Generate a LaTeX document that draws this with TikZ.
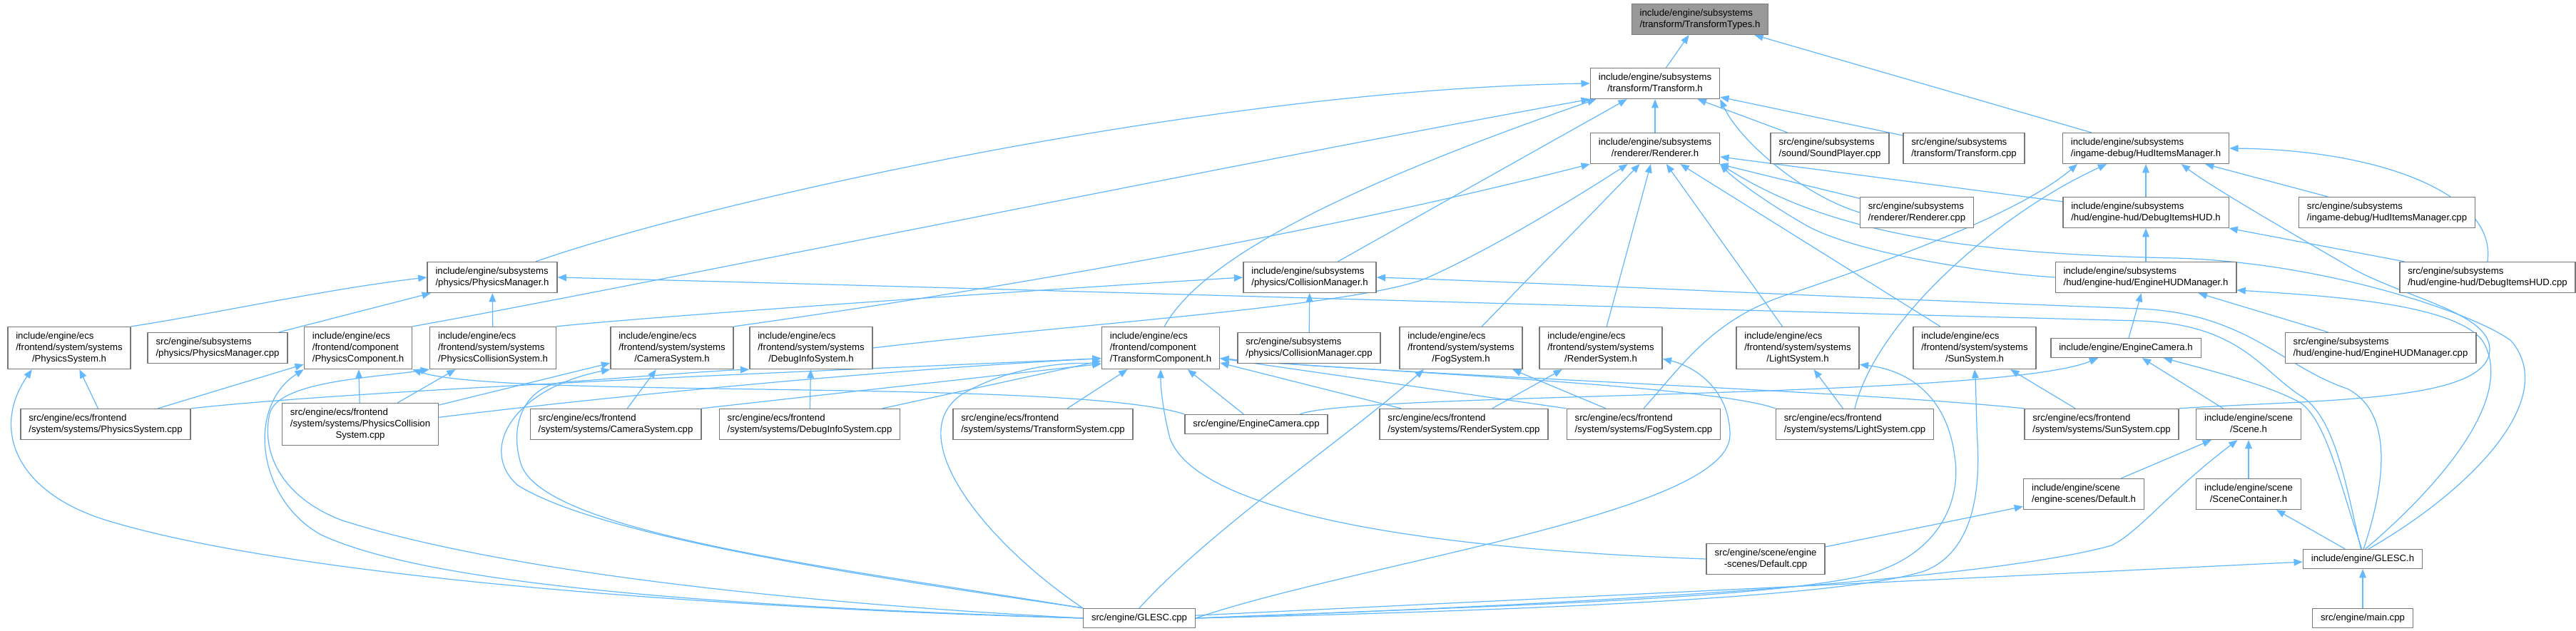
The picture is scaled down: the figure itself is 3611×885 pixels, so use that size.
\documentclass[tikz,border=0pt]{standalone}
\usepackage{fontspec}
\setmainfont{Liberation Sans}
\usepackage{tikz}
\usetikzlibrary{arrows.meta, backgrounds}
\definecolor{incblue}{RGB}{99, 184, 255}
\definecolor{boxline}{RGB}{120, 120, 120}
\definecolor{targetfill}{RGB}{153, 153, 153}
\newcommand{\onel}[1]{\begin{tabular}{@{}c@{}}#1\end{tabular}}
\newcommand{\twol}[2]{\begin{tabular}{@{}l@{}}#1\\\multicolumn{1}{@{}c@{}}{#2}\end{tabular}}
\newcommand{\threel}[3]{\begin{tabular}{@{}l@{}}#1\\#2\\\multicolumn{1}{@{}c@{}}{#3}\end{tabular}}

\begin{document}
\begin{tikzpicture}[
  x=0.02cm, y=-0.02cm,
  file/.style={
    draw=boxline, fill=white, line width=0.8pt,
    inner xsep=6.5pt, inner ysep=3.1pt,
    font=\fontsize{7.5}{9.1}\selectfont
  },
  target/.style={file, fill=targetfill},
  inc/.style={-{Triangle[length=7pt,width=5.5pt]}, draw=incblue, line width=0.7pt}
]
  \useasboundingbox (0,0) rectangle (3611,885);

  \node[target] (tt) at (2383,27) {\twol{include/engine/subsystems}{/transform/TransformTypes.h}};
  \node[file] (tr) at (2320,117) {\twol{include/engine/subsystems}{/transform/Transform.h}};

  \node[file] (rh) at (2320,208) {\twol{include/engine/subsystems}{/renderer/Renderer.h}};
  \node[file] (sp) at (2565,208) {\twol{src/engine/subsystems}{/sound/SoundPlayer.cpp}};
  \node[file] (tcpp) at (2753,208) {\twol{src/engine/subsystems}{/transform/Transform.cpp}};
  \node[file] (himh) at (3008,208) {\twol{include/engine/subsystems}{/ingame-debug/HudItemsManager.h}};

  \node[file] (rcpp) at (2687,298) {\twol{src/engine/subsystems}{/renderer/Renderer.cpp}};
  \node[file] (dih) at (3008,298) {\twol{include/engine/subsystems}{/hud/engine-hud/DebugItemsHUD.h}};
  \node[file] (himcpp) at (3346,298) {\twol{src/engine/subsystems}{/ingame-debug/HudItemsManager.cpp}};

  \node[file] (pmh) at (690,389) {\twol{include/engine/subsystems}{/physics/PhysicsManager.h}};
  \node[file] (cmh) at (1836,389) {\twol{include/engine/subsystems}{/physics/CollisionManager.h}};
  \node[file] (ehmh) at (3008,389) {\twol{include/engine/subsystems}{/hud/engine-hud/EngineHUDManager.h}};
  \node[file] (dicpp) at (3487,389) {\twol{src/engine/subsystems}{/hud/engine-hud/DebugItemsHUD.cpp}};

  \node[file] (psh) at (97,488) {\threel{include/engine/ecs}{/frontend/system/systems}{/PhysicsSystem.h}};
  \node[file] (pmcpp) at (305,488) {\twol{src/engine/subsystems}{/physics/PhysicsManager.cpp}};
  \node[file] (pch) at (502,488) {\threel{include/engine/ecs}{/frontend/component}{/PhysicsComponent.h}};
  \node[file] (pcsh) at (691,488) {\threel{include/engine/ecs}{/frontend/system/systems}{/PhysicsCollisionSystem.h}};
  \node[file] (csh) at (942,488) {\threel{include/engine/ecs}{/frontend/system/systems}{/CameraSystem.h}};
  \node[file] (dish) at (1137,488) {\threel{include/engine/ecs}{/frontend/system/systems}{/DebugInfoSystem.h}};
  \node[file] (tch) at (1627,488) {\threel{include/engine/ecs}{/frontend/component}{/TransformComponent.h}};
  \node[file] (cmcpp) at (1835,488) {\twol{src/engine/subsystems}{/physics/CollisionManager.cpp}};
  \node[file] (fsh) at (2048,488) {\threel{include/engine/ecs}{/frontend/system/systems}{/FogSystem.h}};
  \node[file] (rsh) at (2244,488) {\threel{include/engine/ecs}{/frontend/system/systems}{/RenderSystem.h}};
  \node[file] (lsh) at (2520,488) {\threel{include/engine/ecs}{/frontend/system/systems}{/LightSystem.h}};
  \node[file] (ssh) at (2768,488) {\threel{include/engine/ecs}{/frontend/system/systems}{/SunSystem.h}};
  \node[file] (ech) at (2980,488) {\onel{include/engine/EngineCamera.h}};
  \node[file] (ehmcpp) at (3337,488) {\twol{src/engine/subsystems}{/hud/engine-hud/EngineHUDManager.cpp}};

  \node[file] (pscpp) at (148,595) {\twol{src/engine/ecs/frontend}{/system/systems/PhysicsSystem.cpp}};
  \node[file] (pcscpp) at (505,595) {\threel{src/engine/ecs/frontend}{/system/systems/PhysicsCollision}{System.cpp}};
  \node[file] (cscpp) at (863,595) {\twol{src/engine/ecs/frontend}{/system/systems/CameraSystem.cpp}};
  \node[file] (discpp) at (1135,595) {\twol{src/engine/ecs/frontend}{/system/systems/DebugInfoSystem.cpp}};
  \node[file] (tscpp) at (1462,595) {\twol{src/engine/ecs/frontend}{/system/systems/TransformSystem.cpp}};
  \node[file] (eccpp) at (1761,595) {\onel{src/engine/EngineCamera.cpp}};
  \node[file] (rscpp) at (2052,595) {\twol{src/engine/ecs/frontend}{/system/systems/RenderSystem.cpp}};
  \node[file] (fscpp) at (2304,595) {\twol{src/engine/ecs/frontend}{/system/systems/FogSystem.cpp}};
  \node[file] (lscpp) at (2600,595) {\twol{src/engine/ecs/frontend}{/system/systems/LightSystem.cpp}};
  \node[file] (sscpp) at (2946,595) {\twol{src/engine/ecs/frontend}{/system/systems/SunSystem.cpp}};
  \node[file] (sceneh) at (3152,595) {\twol{include/engine/scene}{/Scene.h}};

  \node[file] (defh) at (2921,693) {\twol{include/engine/scene}{/engine-scenes/Default.h}};
  \node[file] (scch) at (3152,693) {\twol{include/engine/scene}{/SceneContainer.h}};
  \node[file] (defcpp) at (2475,784) {\twol{src/engine/scene/engine}{-scenes/Default.cpp}};
  \node[file] (gh) at (3312,784) {\onel{include/engine/GLESC.h}};
  \node[file] (gcpp) at (1597,867) {\onel{src/engine/GLESC.cpp}};
  \node[file] (maincpp) at (3312,867) {\onel{src/engine/main.cpp}};

  \begin{scope}[on background layer]
    \draw[inc] (tr) -- (tt);
    \draw[inc] (himh) -- (tt);

    \draw[inc] (rh) -- (tr);
    \draw[inc] (sp) -- (tr);
    \draw[inc] (tcpp) -- (tr);
    \draw[inc] (cmh) -- (tr);
    \draw[inc] (rcpp.west) .. controls (2530,275) and (2440,200) .. (tr.south east);
    \draw[inc] (pmh.20) .. controls (1000,280) and (1700,125) .. (tr.west);
    \draw[inc] (pch.north east) .. controls (900,400) and (1700,235) .. (tr.south west);
    \draw[inc] (tch.80) .. controls (1680,370) and (1860,270) .. (tr.-165);

    \draw[inc] (rcpp) -- (rh);
    \draw[inc] (dih) -- (rh);
    \draw[inc] (fsh) -- (rh);
    \draw[inc] (rsh) -- (rh);
    \draw[inc] (lsh) -- (rh);
    \draw[inc] (ssh) -- (rh);
    \draw[inc] (csh.north east) .. controls (1300,420) and (1800,340) .. (rh.south west);
    \draw[inc] (dish.east) .. controls (1500,455) and (1900,430) .. (2000,390) .. controls (2100,345) and (2220,270) .. (rh.-150);
    \draw[inc] (ehmh.west) .. controls (2750,380) and (2590,350) .. (2530,315) .. controls (2470,280) and (2430,250) .. (rh.south east);
    \draw[inc] (gh.60) .. controls (3460,690) and (3590,560) .. (3520,478) .. controls (3470,440) and (3260,368) .. (3050,362) .. controls (2750,356) and (2560,325) .. (rh.south east);

    \draw[inc] (dih) -- (himh);
    \draw[inc] (himcpp) -- (himh);
    \draw[inc] (dicpp.north) .. controls (3500,270) and (3330,210) .. (himh.east);
    \draw[inc] (fscpp.north) .. controls (2360,510) and (2400,450) .. (2500,415) .. controls (2650,365) and (2830,300) .. (himh.-167);
    \draw[inc] (lscpp.north) .. controls (2630,450) and (2800,300) .. (himh.-158);
    \draw[inc] (sscpp.north east) .. controls (3250,560) and (3490,565) .. (3490,490) .. controls (3490,440) and (3380,420) .. (3300,378) .. controls (3200,320) and (3100,262) .. (himh.-24);

    \draw[inc] (ehmh) -- (dih);
    \draw[inc] (dicpp) -- (dih);
    \draw[inc] (ech) -- (ehmh);
    \draw[inc] (ehmcpp) -- (ehmh);
    \draw[inc] (gh.75) .. controls (3410,690) and (3530,560) .. (3480,478) .. controls (3440,425) and (3260,415) .. (ehmh.-8);

    \draw[inc] (psh.north east) .. controls (300,440) and (460,405) .. (pmh.west);
    \draw[inc] (pmcpp) -- (pmh);
    \draw[inc] (pcsh) -- (pmh);
    \draw[inc] (gh.100) .. controls (3290,690) and (3275,585) .. (3225,555) .. controls (3170,520) and (3140,455) .. (3000,450) .. controls (2300,432) and (1300,402) .. (pmh.east);

    \draw[inc] (cmcpp) -- (cmh);
    \draw[inc] (pcsh.north east) .. controls (900,445) and (1400,410) .. (cmh.west);
    \draw[inc] (gh.85) .. controls (3340,690) and (3360,580) .. (3290,545) .. controls (3200,515) and (3150,440) .. (3000,433) .. controls (2500,414) and (2200,398) .. (cmh.east);

    \draw[inc] (pscpp) -- (psh);
    \draw[inc] (pscpp) -- (pch);
    \draw[inc] (pscpp.north east) .. controls (520,545) and (1200,518) .. (tch.-170);
    \draw[inc] (pcscpp) -- (pch);
    \draw[inc] (pcscpp) -- (pcsh);
    \draw[inc] (pcscpp) -- (csh);
    \draw[inc] (pcscpp.5) .. controls (900,550) and (1300,515) .. (tch.-170);
    \draw[inc] (cscpp) -- (csh);
    \draw[inc] (cscpp.north east) -- (tch.-165);
    \draw[inc] (discpp) -- (dish);
    \draw[inc] (discpp) -- (tch);
    \draw[inc] (tscpp) -- (tch);
    \draw[inc] (eccpp) -- (tch);
    \draw[inc] (eccpp.north west) .. controls (1500,530) and (700,560) .. (pch.south east);
    \draw[inc] (eccpp.13) .. controls (1900,550) and (2800,560) .. (ech.-160);
    \draw[inc] (rscpp) -- (rsh);
    \draw[inc] (rscpp) -- (tch);
    \draw[inc] (fscpp) -- (fsh);
    \draw[inc] (fscpp.north west) -- (tch.-10);
    \draw[inc] (lscpp) -- (lsh);
    \draw[inc] (lscpp.north west) .. controls (2400,540) and (1900,520) .. (tch.-10);
    \draw[inc] (sscpp) -- (ssh);
    \draw[inc] (sscpp.north west) .. controls (2600,548) and (1950,525) .. (tch.-10);

    \draw[inc] (sceneh) -- (ech);
    \draw[inc] (defh) -- (sceneh);
    \draw[inc] (scch) -- (sceneh);
    \draw[inc] (defcpp) -- (defh);
    \draw[inc] (defcpp.west) .. controls (2000,770) and (1680,720) .. (1640,615) .. controls (1630,575) and (1627,545) .. (tch.south);
    \draw[inc] (gh) -- (scch);
    \draw[inc] (maincpp) -- (gh);
    \draw[inc] (gh.95) .. controls (3280,680) and (3262,592) .. (3225,565) .. controls (3180,540) and (3100,520) .. (ech.-15);

    \draw[inc] (gcpp) -- (gh);
    \draw[inc] (gcpp.west) .. controls (900,850) and (380,800) .. (150,730) .. controls (20,690) and (-12,600) .. (psh.-150);
    \draw[inc] (gcpp.west) .. controls (1000,850) and (600,820) .. (450,750) .. controls (360,700) and (345,570) .. (pch.south west);
    \draw[inc] (gcpp.west) .. controls (1100,845) and (700,800) .. (480,730) .. controls (400,700) and (365,640) .. (378,580) .. controls (390,535) and (520,530) .. (pcsh.south west);
    \draw[inc] (gcpp.north west) .. controls (1300,820) and (850,760) .. (725,680) .. controls (670,630) and (720,545) .. (csh.south west);
    \draw[inc] (gcpp.north west) .. controls (1200,800) and (760,750) .. (730,650) .. controls (712,590) and (740,541) .. (790,536) .. controls (900,528) and (1000,520) .. (dish.south west);
    \draw[inc] (gcpp.north west) .. controls (1380,760) and (1260,610) .. (1350,552) .. controls (1420,512) and (1500,508) .. (tch.-165);
    \draw[inc] (gcpp.north) .. controls (1700,740) and (1880,620) .. (fsh.-150);
    \draw[inc] (gcpp.east) .. controls (1900,790) and (2425,720) .. (2425,610) .. controls (2425,550) and (2380,515) .. (rsh.-10);
    \draw[inc] (gcpp.east) .. controls (2100,850) and (2450,840) .. (2600,810) .. controls (2720,785) and (2750,700) .. (2740,640) .. controls (2730,560) and (2680,520) .. (lsh.-15);
    \draw[inc] (gcpp.east) .. controls (2200,855) and (2600,835) .. (2700,800) .. controls (2770,770) and (2775,680) .. (2772,620) .. controls (2770,580) and (2770,545) .. (ssh.south);
    \draw[inc] (gcpp.east) .. controls (2300,845) and (2800,810) .. (2960,765) .. controls (3000,745) and (3040,690) .. (sceneh.-125);
  \end{scope}
\end{tikzpicture}
\end{document}
